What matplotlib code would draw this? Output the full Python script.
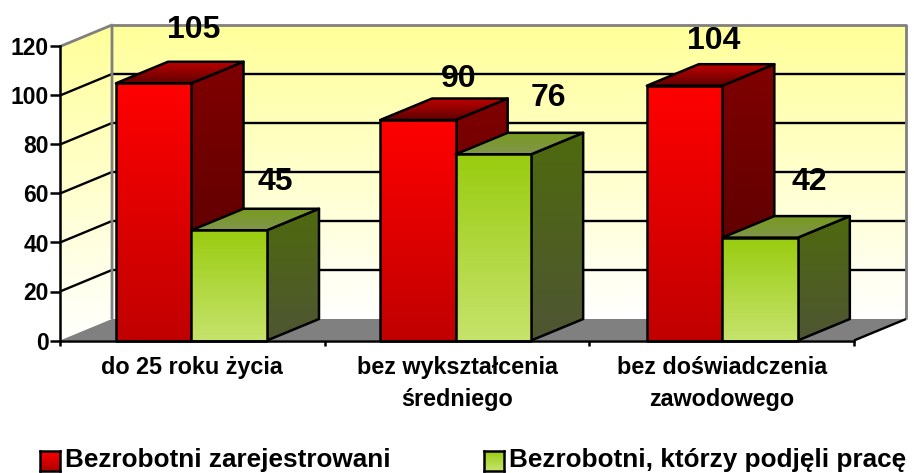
import numpy as np
import matplotlib
matplotlib.use("Agg")
import matplotlib.pyplot as plt
from matplotlib.colors import to_rgb
from matplotlib.patches import Polygon

plt.rcParams['font.family'] = ['Liberation Sans', 'DejaVu Sans']
plt.rcParams['font.weight'] = 'bold'

### the data
categories = ["do 25 roku życia", "bez wykształcenia\nśredniego", "bez doświadczenia\nzawodowego"]
registered = [105, 90, 104]
took_job = [45, 76, 42]
series_names = ["Bezrobotni zarejestrowani", "Bezrobotni, którzy podjęli pracę"]
y_ticks = [0, 20, 40, 60, 80, 100, 120]

### label nudges in pixels, they were placed by hand in the original
nudge_registered = [(40, 53), (41, 41), (29, 45)]
nudge_took_job = [(46, 48), (55, 56), (49, 56)]
### gap in pixels between category start and first bar
bar_gap = [56, 55.5, 57.5]

W, H = 914, 473
fig = plt.figure(figsize=(W / 100, H / 100), dpi=100)
ax = fig.add_axes([60 / W, (H - 340.5) / H, 794 / W, 294 / H])
ax.set_xlim(0, 3)
ax.set_ylim(0, 120)
ax.autoscale(False)

### depth of the fake 3d box in data units
DX = 52 / (794 / 3)
DY = 21.5 / (294 / 120)
BAR_W = 75.5 / (794 / 3)
z = [1]


def grad(verts, top, bottom, outline=True):
    verts = np.array(verts)
    t = np.linspace(0, 1, 256)[:, None, None]
    img = (1 - t) * np.array(to_rgb(top)) + t * np.array(to_rgb(bottom))
    extent = (verts[:, 0].min(), verts[:, 0].max(), verts[:, 1].min(), verts[:, 1].max())
    im = ax.imshow(img, extent=extent, aspect='auto', interpolation='bilinear', zorder=z[0])
    poly = Polygon(verts, closed=True, transform=ax.transData)
    im.set_clip_path(poly)
    im.set_clip_box(fig.bbox)
    z[0] += 1
    if outline:
        ax.add_patch(Polygon(verts, closed=True, fill=False, ec='black', lw=1.8,
                             joinstyle='round', clip_on=False, zorder=z[0]))
        z[0] += 1


def line(xs, ys, color, lw=1.7):
    ax.plot(xs, ys, color=color, lw=lw, clip_on=False, zorder=z[0], solid_capstyle='butt')
    z[0] += 1


def bar3d(x, value, front, side, cap):
    x2 = x + BAR_W
    grad([(x2, 0), (x2 + DX, DY), (x2 + DX, value + DY), (x2, value)], side[0], side[1])
    grad([(x, value), (x2, value), (x2 + DX, value + DY), (x + DX, value + DY)], cap[0], cap[1])
    grad([(x, 0), (x2, 0), (x2, value), (x, value)], front[0], front[1])


### walls and floor
grad([(DX, DY), (3 + DX, DY), (3 + DX, 120 + DY), (DX, 120 + DY)], '#FFFF99', '#FFFFFF', outline=False)
grad([(0, 0), (DX, DY), (DX, 120 + DY), (0, 120)], '#FFFF99', '#FFFFFF', outline=False)
for v in y_ticks[1:-1]:
    line([0, DX, 3 + DX], [v, v + DY, v + DY], 'black')
line([0, DX, DX], [120, 120 + DY, DY], '#808080', 2)
line([DX, 3 + DX, 3 + DX], [120 + DY, 120 + DY, DY], '#808080', 2)
ax.add_patch(Polygon([(0, 0), (3, 0), (3 + DX, DY), (DX, DY)], closed=True, fc='#808080', ec='none',
                     clip_on=False, zorder=z[0]))
z[0] += 1
line([3, 3 + DX], [0, DY], 'black')

### bars
bar_x = [i + bar_gap[i] / (794 / 3) for i in range(3)]
for i in range(3):
    bar3d(bar_x[i], registered[i], ('#FF0000', '#C00000'), ('#800000', '#500000'), ('#C00000', '#600000'))
    bar3d(bar_x[i] + BAR_W, took_job[i], ('#99CC0F', '#C6E36C'), ('#4F6A0E', '#4E5533'), ('#779A1E', '#80964A'))

### value labels
for i in range(3):
    ax.annotate(str(registered[i]), (bar_x[i] + BAR_W / 2, registered[i]), xytext=nudge_registered[i],
                textcoords='offset pixels', ha='center', va='center', fontsize=23,
                annotation_clip=False, zorder=200)
    ax.annotate(str(took_job[i]), (bar_x[i] + 1.5 * BAR_W, took_job[i]), xytext=nudge_took_job[i],
                textcoords='offset pixels', ha='center', va='center', fontsize=23,
                annotation_clip=False, zorder=200)

### axes
for s in ['top', 'right']:
    ax.spines[s].set_visible(False)
for s in ['left', 'bottom']:
    ax.spines[s].set_linewidth(1.8)
    ax.spines[s].set_zorder(150)
ax.set_yticks(y_ticks)
ax.tick_params(axis='y', length=7, width=1.8, pad=1, labelsize=16.5)
ax.set_xticks(range(4))
ax.set_xticklabels([])
ax.tick_params(axis='x', which='major', length=3.5, width=1.8)
ax.set_xticks([0.5, 1.5, 2.5], minor=True)
ax.set_xticklabels(categories, minor=True, fontsize=16.8, linespacing=1.49)
ax.tick_params(axis='x', which='minor', length=0, pad=11)

### legend, drawn by hand because of the gradient swatches
legend_x = [40, 484]
swatch_cols = [('#FF0000', '#B00000'), ('#99CC0F', '#C6E36C')]
for i in range(2):
    sw = fig.add_axes([legend_x[i] / W, (H - 471) / H, 20 / W, 20 / H])
    t = np.linspace(0, 1, 64)[:, None, None]
    sw.imshow((1 - t) * np.array(to_rgb(swatch_cols[i][0])) + t * np.array(to_rgb(swatch_cols[i][1])), aspect='auto')
    sw.set_xticks([])
    sw.set_yticks([])
    for s in sw.spines.values():
        s.set_linewidth(1.8)
    fig.text((legend_x[i] + 25) / W, (H - 466.5) / H, series_names[i], fontsize=18.8, va='baseline', ha='left')

fig.savefig("out.png", dpi=100)
